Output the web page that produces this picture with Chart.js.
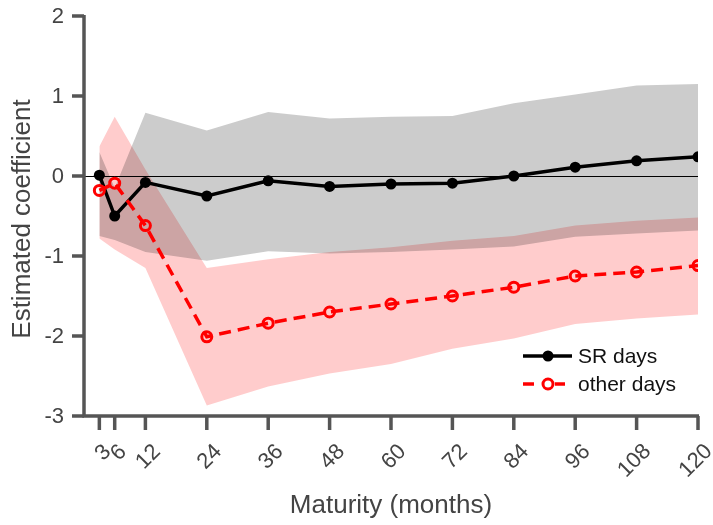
<!DOCTYPE html>
<html>
<head>
<meta charset="utf-8">
<script src="https://cdn.jsdelivr.net/npm/chart.js@4"></script>
<style>
  html, body { margin: 0; padding: 0; background: #fff; }
  #wrap { width: 713px; height: 525px; position: relative; }
</style>
</head>
<body>
<div id="wrap"><canvas id="myChart" width="713" height="525"></canvas></div>
<script>
// Dados
const maturities = [3, 6, 12, 24, 36, 48, 60, 72, 84, 96, 108, 120];
const xTickLabels = ['3', '6', '12', '24', '36', '48', '60', '72', '84', '96', '108', '120'];
const yTicks = [2, 1, 0, -1, -2, -3];

const srDays = [0.01, -0.50, -0.08, -0.25, -0.06, -0.13, -0.10, -0.09, 0.00, 0.11, 0.19, 0.24];
const srUpper = [0.30, -0.15, 0.79, 0.57, 0.80, 0.72, 0.74, 0.75, 0.91, 1.02, 1.13, 1.15];
const srLower = [-0.75, -0.80, -0.95, -1.06, -0.94, -0.97, -0.95, -0.92, -0.88, -0.76, -0.72, -0.68];

const otherDays = [-0.18, -0.09, -0.62, -2.01, -1.84, -1.70, -1.60, -1.50, -1.39, -1.25, -1.20, -1.12];
const otherUpper = [0.37, 0.74, 0.08, -1.15, -1.04, -0.95, -0.89, -0.81, -0.75, -0.62, -0.56, -0.52];
const otherLower = [-0.78, -0.92, -1.15, -2.87, -2.63, -2.47, -2.35, -2.16, -2.03, -1.85, -1.78, -1.73];

const FONT = "'Liberation Sans', Arial, Helvetica, sans-serif";
const AXIS_COLOR = '#555555';
const LABEL_COLOR = '#444444';

function pts(values) {
    return maturities.map((m, i) => ({ x: m, y: values[i] }));
}

// Eixos, rótulos e legenda desenhados à mão (estilo MATLAB)
const axesPlugin = {
    id: 'axesPlugin',
    // linha do zero, por cima das faixas e por baixo das séries
    afterDatasetDraw(chart, args) {
        if (args.index !== 3) return;
        const ctx = chart.ctx;
        const xs = chart.scales.x;
        const y0 = Math.round(chart.scales.y.getPixelForValue(0)) + 0.5;
        ctx.save();
        ctx.strokeStyle = '#000';
        ctx.lineWidth = 1;
        ctx.beginPath();
        ctx.moveTo(xs.getPixelForValue(0), y0);
        ctx.lineTo(xs.getPixelForValue(120), y0);
        ctx.stroke();
        ctx.restore();
    },
    afterDraw(chart) {
        const ctx = chart.ctx;
        const xs = chart.scales.x;
        const ys = chart.scales.y;
        const left = xs.getPixelForValue(0);
        const right = xs.getPixelForValue(120);
        const top = ys.getPixelForValue(2);
        const bottom = ys.getPixelForValue(-3);

        ctx.save();
        ctx.strokeStyle = AXIS_COLOR;
        ctx.lineWidth = 3.5;
        ctx.lineCap = 'butt';
        ctx.beginPath();
        ctx.moveTo(left, top - 1);
        ctx.lineTo(left, bottom);
        ctx.lineTo(right + 1, bottom);
        ctx.stroke();

        // ticks do eixo y
        ctx.fillStyle = LABEL_COLOR;
        ctx.font = '22px ' + FONT;
        ctx.textAlign = 'right';
        ctx.textBaseline = 'middle';
        yTicks.forEach(v => {
            const y = ys.getPixelForValue(v);
            ctx.beginPath();
            ctx.moveTo(left - 12, y);
            ctx.lineTo(left, y);
            ctx.stroke();
            ctx.fillText(String(v), left - 20, y + 1);
        });

        // ticks do eixo x (rótulos girados)
        maturities.forEach((m, i) => {
            const x = xs.getPixelForValue(m);
            ctx.beginPath();
            ctx.moveTo(x, bottom);
            ctx.lineTo(x, bottom + 14);
            ctx.stroke();
            const label = xTickLabels[i];
            const dx = [4, 3, -2][label.length - 1];
            const cy = [453, 457, 461][label.length - 1];
            ctx.save();
            ctx.translate(x + dx, cy);
            ctx.rotate(-Math.PI / 4);
            ctx.textAlign = 'center';
            ctx.textBaseline = 'middle';
            ctx.fillText(label, 0, 0);
            ctx.restore();
        });

        // títulos
        ctx.font = '26px ' + FONT;
        ctx.fillStyle = LABEL_COLOR;
        ctx.textAlign = 'center';
        ctx.textBaseline = 'middle';
        ctx.fillText('Maturity (months)', (left + right) / 2, 506);
        ctx.save();
        ctx.translate(23, 219);
        ctx.rotate(-Math.PI / 2);
        ctx.fillText('Estimated coefficient', 0, 0);
        ctx.restore();

        // legenda
        ctx.lineWidth = 3.5;
        ctx.strokeStyle = '#000';
        ctx.beginPath();
        ctx.moveTo(523, 356);
        ctx.lineTo(572, 356);
        ctx.stroke();
        ctx.fillStyle = '#000';
        ctx.beginPath();
        ctx.arc(548, 356, 5.5, 0, Math.PI * 2);
        ctx.fill();

        ctx.strokeStyle = '#ff0000';
        ctx.beginPath();
        ctx.moveTo(523, 384);
        ctx.lineTo(534, 384);
        ctx.moveTo(555, 384);
        ctx.lineTo(565, 384);
        ctx.stroke();
        ctx.lineWidth = 3;
        ctx.beginPath();
        ctx.arc(548, 384, 5, 0, Math.PI * 2);
        ctx.stroke();

        ctx.fillStyle = '#111';
        ctx.font = '21px ' + FONT;
        ctx.textAlign = 'left';
        ctx.textBaseline = 'middle';
        ctx.fillText('SR days', 578, 357);
        ctx.fillText('other days', 578, 385);
        ctx.restore();
    }
};

const ctx = document.getElementById('myChart').getContext('2d');
const myChart = new Chart(ctx, {
    type: 'line',
    data: {
        datasets: [
            {
                label: 'other upper',
                data: pts(otherUpper),
                borderColor: 'transparent',
                borderWidth: 0,
                pointRadius: 0,
                fill: false,
                order: 8
            },
            {
                label: 'other lower',
                data: pts(otherLower),
                borderColor: 'transparent',
                borderWidth: 0,
                pointRadius: 0,
                fill: { target: 0 },
                backgroundColor: 'rgba(255, 0, 0, 0.2)',
                order: 7
            },
            {
                label: 'SR upper',
                data: pts(srUpper),
                borderColor: 'transparent',
                borderWidth: 0,
                pointRadius: 0,
                fill: false,
                order: 6
            },
            {
                label: 'SR lower',
                data: pts(srLower),
                borderColor: 'transparent',
                borderWidth: 0,
                pointRadius: 0,
                fill: { target: 2 },
                backgroundColor: 'rgba(0, 0, 0, 0.2)',
                order: 5
            },
            {
                label: 'SR days',
                data: pts(srDays),
                borderColor: '#000',
                borderWidth: 3.5,
                pointRadius: 5.5,
                pointBackgroundColor: '#000',
                pointBorderColor: '#000',
                pointBorderWidth: 0,
                fill: false,
                order: 3
            },
            {
                label: 'other days',
                data: pts(otherDays),
                borderColor: '#ff0000',
                borderWidth: 3.5,
                borderDash: [12, 7],
                pointRadius: 5,
                pointBackgroundColor: 'rgba(0,0,0,0)',
                pointBorderColor: '#ff0000',
                pointBorderWidth: 3,
                fill: false,
                order: 2
            }
        ]
    },
    options: {
        responsive: false,
        animation: false,
        layout: {
            padding: { left: 84, right: 15, top: 16, bottom: 109 }
        },
        elements: {
            line: { tension: 0 }
        },
        scales: {
            x: { type: 'linear', min: 0, max: 120, display: false },
            y: { type: 'linear', min: -3, max: 2, display: false }
        },
        plugins: {
            legend: { display: false },
            tooltip: { enabled: false }
        }
    },
    plugins: [axesPlugin]
});
</script>
</body>
</html>
